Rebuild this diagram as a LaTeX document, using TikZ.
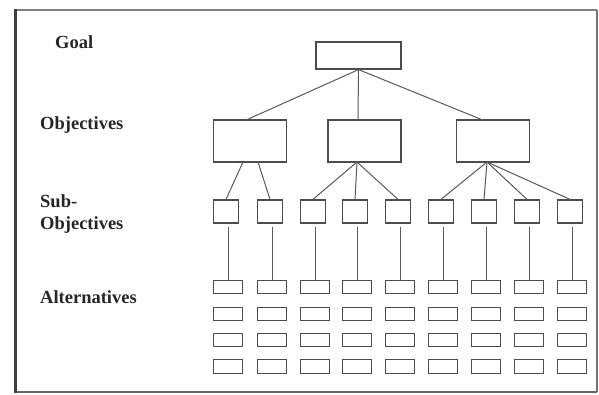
\documentclass[tikz,border=0pt]{standalone}
\usepackage{fontspec}
\setmainfont{Liberation Serif}
\begin{document}
\begin{tikzpicture}[x=1pt,y=-1pt,
  goalbox/.style={draw=black!70,line width=1.2pt,inner sep=0pt,minimum width=85pt,minimum height=27pt},
  objbox/.style={draw=black!70,line width=1.2pt,inner sep=0pt,minimum width=73pt,minimum height=42pt},
  subbox/.style={draw=black!70,line width=1.2pt,inner sep=0pt,minimum width=25pt,minimum height=23pt},
  altbox/.style={draw=black!70,line width=1.2pt,inner sep=0pt,minimum width=29pt,minimum height=13.5pt},
  link/.style={draw=black!65,line width=1pt},
  lbl/.style={font=\fontsize{18.5}{22}\selectfont\bfseries,anchor=west,inner sep=0pt,text=black!85,align=left}
]
\useasboundingbox (0,0) rectangle (599,394);
% frame
\draw[black!50,line width=2pt] (14,10) -- (597,10);
\draw[black!55,line width=1.5pt] (597,10) -- (597,392);
\draw[black!60,line width=2pt] (15,392) -- (597,392);
\draw[black!75,line width=3pt] (15.5,8.5) -- (15.5,393);
% labels
\node[lbl] (lg) at (55,42) {Goal};
\node[lbl] (lo) at (40,125) {Objectives};
\node[lbl] (ls) at (40,214) {Sub-\\Objectives};
\node[lbl] (la) at (40,297) {Alternatives};
% goal
\node[goalbox] (g) at (358.5,55.5) {};
% objectives
\node[objbox] (o1) at (250,141) {};
\node[objbox] (o2) at (364.5,141) {};
\node[objbox] (o3) at (493,141) {};
\draw[link] (g.south) -- (245,120.5) coordinate (o1t);
\draw[link] (g.south) -- (358,120.5) coordinate (o2t);
\draw[link] (g.south) -- (484,120.5) coordinate (o3t);
% sub-objectives and alternatives
\foreach \i/\x in {1/226,2/270,3/313,4/355,5/398,6/441,7/484,8/527,9/570}{
  \node[subbox] (s\i) at (\x,211.5) {};
  \foreach \r/\y in {1/287,2/314,3/340,4/366.5}{
    \node[altbox] (a\i-\r) at (\x+2,\y) {};
  }
  \draw[link,shorten <=3pt] (s\i.south -| a\i-1.north) -- (a\i-1.north);
}
% objective to sub links
\draw[link] (243,162) -- (s1.north);
\draw[link] (258,162) -- (s2.north);
\coordinate (o2b) at (357,162);
\foreach \i in {3,4,5}{\draw[link] (o2b) -- (s\i.north);}
\coordinate (o3b) at (487,162);
\foreach \i in {6,7,8,9}{\draw[link] (o3b) -- (s\i.north);}
\end{tikzpicture}
\end{document}
